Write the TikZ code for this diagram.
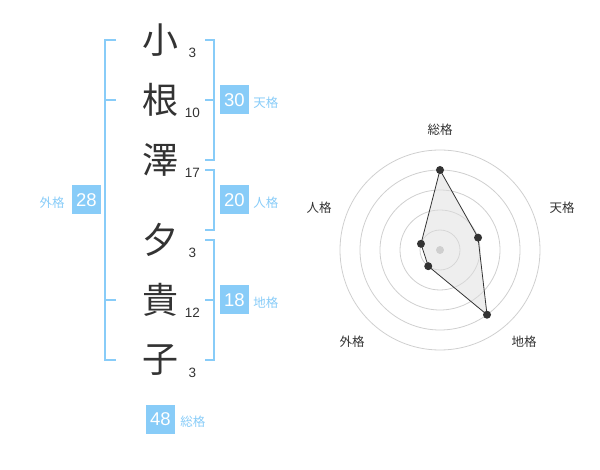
\documentclass[tikz,border=0pt]{standalone}
\usepackage{fontspec}
\setmainfont{Liberation Sans}
\newfontfamily\jpfont{Noto Sans CJK JP}
\usetikzlibrary{positioning}
\definecolor{kakublue}{HTML}{88CCF8}
\definecolor{ink}{HTML}{333333}
\definecolor{ringgray}{HTML}{CFCFCF}
\definecolor{areagray}{HTML}{DEDEDE}
\tikzset{
kanji/.style={inner sep=0, text=ink, font=\jpfont\fontsize{36}{36}\selectfont},
count/.style={inner sep=0, text=ink, font=\fontsize{13.5}{13.5}\selectfont},
score/.style={fill=kakublue, text=white, minimum size=29pt, inner sep=0, font=\fontsize{18.5}{18.5}\selectfont},
kaku/.style={inner sep=0, text=kakublue, font=\jpfont\fontsize{12.5}{12.5}\selectfont},
bracket/.style={draw=kakublue, line width=2pt},
ring/.style={draw=ringgray, line width=0.8pt},
dot/.style={circle, fill=ink, inner sep=0, minimum size=8pt},
axis/.style={inner sep=0, text=ink, font=\jpfont\fontsize{12.5}{12.5}\selectfont},
}

\begin{document}
\begin{tikzpicture}[x=1pt, y=1pt]
    \useasboundingbox (0,0) rectangle (600,-470);

    %characters and stroke counts
    \foreach \i/\y/\k/\n in {1/40/小/3, 2/100/根/10, 3/160/澤/17, 4/240/夕/3, 5/300/貴/12, 6/360/子/3} {
        \coordinate (r\i) at (160,-\y);
        \node[kanji] (k\i) at (r\i) {\k};
        \node[count] (n\i) at ([shift={(32.5,-12.5)}]r\i) {\n};
    }

    %bracket columns
    \coordinate (bl) at (105,0);
    \coordinate (bli) at (116,0);
    \coordinate (br) at (214,0);
    \coordinate (bri) at (205,0);
    \coordinate (h1) at (0,-170);
    \coordinate (h2) at (0,-230);
    \coordinate (sx) at (234.5,0);

    %brackets
    \draw[bracket] (r1 -| bli) -- (r1 -| bl) -- (r6 -| bl) -- (r6 -| bli);
    \draw[bracket] (r2 -| bl) -- (r2 -| bli);
    \draw[bracket] (r5 -| bl) -- (r5 -| bli);
    \draw[bracket] (r1 -| bri) -- (r1 -| br) -- (r3 -| br) -- (r3 -| bri);
    \draw[bracket] (r2 -| br) -- (r2 -| bri);
    \draw[bracket] (h1 -| bri) -- (h1 -| br) -- (h2 -| br) -- (h2 -| bri);
    \draw[bracket] (r4 -| bri) -- (r4 -| br) -- (r6 -| br) -- (r6 -| bri);
    \draw[bracket] (r5 -| br) -- (r5 -| bri);

    %scores and labels
    \node[score] (s30) at (r2 -| sx) {30};
    \node[score] (s20) at (234.5,-200) {20};
    \node[score] (s18) at (r5 -| sx) {18};
    \node[score] (s28) at (86.5,-200) {28};
    \node[score] (s48) at (160.5,-419) {48};
    \node[kaku, right=4pt of s30, yshift=-3pt] (ten) {天格};
    \node[kaku, right=4pt of s20, yshift=-3pt] (jin) {人格};
    \node[kaku, right=4pt of s18, yshift=-3pt] (chi) {地格};
    \node[kaku, left=7pt of s28, yshift=-3pt] (gai) {外格};
    \node[kaku, right=5pt of s48, yshift=-3pt] (sou) {総格};

    %radar
    \coordinate (ctr) at (440,-250);
    \foreach \r in {20,40,...,100}
        \draw[ring] (ctr) circle (\r pt);
    \foreach \i/\a/\v in {1/90/80, 2/18/40, 3/-54/80, 4/-126/20, 5/162/20}
        \coordinate (v\i) at ([shift={(\a:\v)}]ctr);
    \fill[areagray, fill opacity=0.5] (v1) -- (v2) -- (v3) -- (v4) -- (v5) -- cycle;
    \draw[ink, line width=0.8pt] (v1) -- (v2) -- (v3) -- (v4) -- (v5) -- cycle;
    \node[dot, fill=ringgray] (c0) at (ctr) {};
    \foreach \i in {1,...,5}
        \node[dot] (p\i) at (v\i) {};

    %axis names
    \node[axis] (a1) at ([shift={(0,120)}]ctr) {総格};
    \node[axis] (a2) at ([shift={(122,42)}]ctr) {天格};
    \node[axis] (a3) at ([shift={(84,-92)}]ctr) {地格};
    \node[axis] (a4) at ([shift={(-88,-92)}]ctr) {外格};
    \node[axis] (a5) at ([shift={(-121,42)}]ctr) {人格};

\end{tikzpicture}
\end{document}
